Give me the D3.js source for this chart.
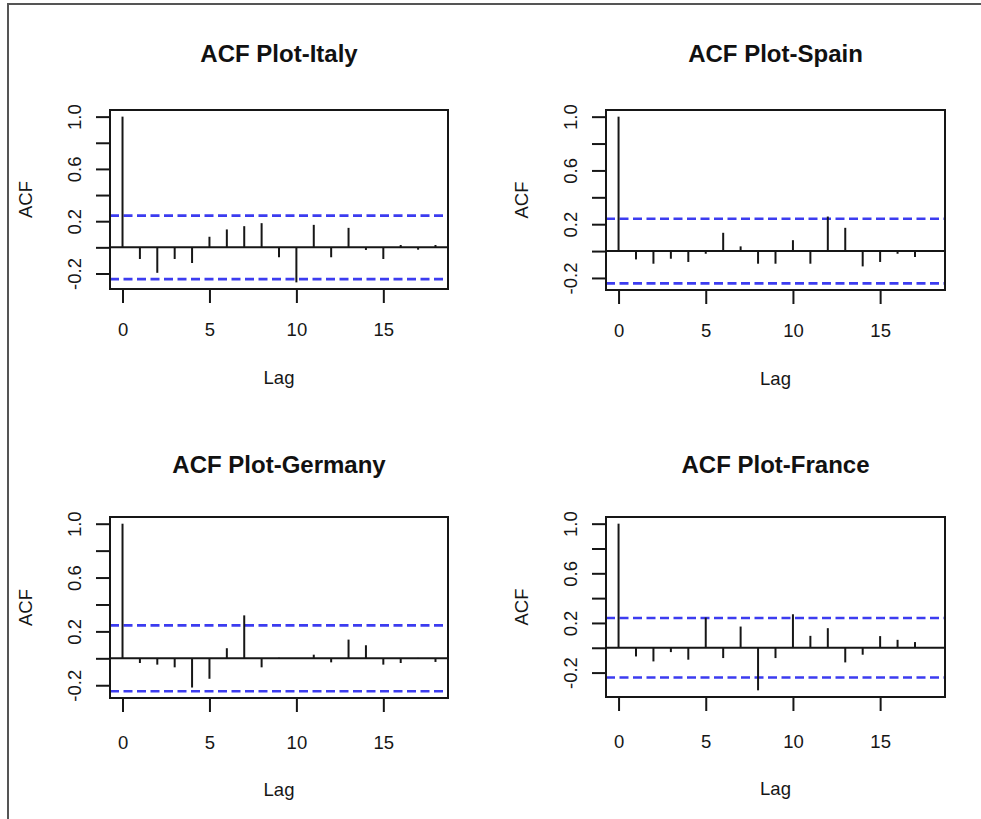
<!DOCTYPE html>
<html lang="en">
<head>
  <meta charset="UTF-8">
  <title>ACF Plots</title>
  <script src="https://d3js.org/d3.v7.min.js"></script>
  <style>
    body {
      margin: 0;
      background: #fff;
      font-family: "Liberation Sans", Arial, sans-serif;
    }
    svg { display: block; }
  </style>
</head>
<body>
  <div id="chart"></div>

  <script>
    // data
    const lags = [0, 1, 2, 3, 4, 5, 6, 7, 8, 9, 10, 11, 12, 13, 14, 15, 16, 17, 18];
    const acfItaly   = [1.0, -0.089, -0.195, -0.089, -0.12, 0.081, 0.137, 0.162, 0.185, -0.076, -0.268, 0.172, -0.076, 0.149, -0.02, -0.089, 0.018, -0.018, 0.018];
    const acfSpain   = [1.0, -0.062, -0.094, -0.057, -0.081, -0.02, 0.136, 0.035, -0.094, -0.094, 0.081, -0.094, 0.257, 0.173, -0.114, -0.081, -0.02, -0.044, 0.003];
    const acfGermany = [1.0, -0.035, -0.047, -0.067, -0.217, -0.152, 0.075, 0.319, -0.067, 0.004, -0.004, 0.027, -0.03, 0.139, 0.097, -0.047, -0.035, 0.003, -0.027];
    const acfFrance  = [1.0, -0.07, -0.11, -0.035, -0.096, 0.244, -0.083, 0.171, -0.343, -0.083, 0.27, 0.096, 0.158, -0.118, -0.056, 0.094, 0.064, 0.046, 0.003];
    const countries  = ["Italy", "Spain", "Germany", "France"];
    const confLimits = [0.243, 0.24, 0.245, 0.24];
    const xTicks = [0, 5, 10, 15];
    const yTicks = [-0.2, 0, 0.2, 0.4, 0.6, 0.8, 1.0];
    const yLabelled = [-0.2, 0.2, 0.6, 1.0];

    const W = 981, H = 819;
    const svg = d3.select("#chart").append("svg")
      .attr("width", W).attr("height", H);

    svg.append("rect").attr("width", W).attr("height", H).attr("fill", "#fff");

    // outer frame (top + left only visible)
    svg.append("path")
      .attr("d", `M8,${H} L8,4 L${W},4`)
      .attr("fill", "none").attr("stroke", "#555").attr("stroke-width", 2);

    // plot boxes for the 2x2 layout; the bottom row sits a little lower on its labels
    const boxes = [
      {left: 110, right: 448, top: 110, bottom: 289, tOff: 48, lOff: 47, labOff: 95},
      {left: 606, right: 945, top: 110, bottom: 290, tOff: 48, lOff: 47, labOff: 95},
      {left: 110, right: 448, top: 517, bottom: 698, tOff: 44, lOff: 51, labOff: 98},
      {left: 606, right: 945, top: 517, bottom: 697, tOff: 44, lOff: 51, labOff: 98}
    ];
    const series = [acfItaly, acfSpain, acfGermany, acfFrance];
    const ink = "#161616";
    const font = "'Liberation Sans', Arial, sans-serif";

    countries.forEach((name, i) => {
      const b = boxes[i];
      const vals = series[i];
      const clim = confLimits[i];
      const data = lags.map((l, j) => ({lag: l, acf: vals[j]}));

      // R-like limits: data range padded by 4%
      const lo = Math.min(-clim, d3.min(vals)), hi = Math.max(clim, d3.max(vals));
      const ypad = (hi - lo) * 0.04;
      const xlo = d3.min(lags), xhi = d3.max(lags);
      const xpad = (xhi - xlo) * 0.04;

      const x = d3.scaleLinear().domain([xlo - xpad, xhi + xpad]).range([b.left, b.right]);
      const y = d3.scaleLinear().domain([lo - ypad, hi + ypad]).range([b.bottom, b.top]);

      const g = svg.append("g");

      // x axis
      const xa = g.append("g")
        .attr("transform", `translate(0,${b.bottom})`)
        .call(d3.axisBottom(x).tickValues(xTicks).tickSize(14).tickPadding(0).tickFormat(d3.format("d")));
      xa.select(".domain").remove();
      xa.selectAll("line").attr("stroke", ink).attr("stroke-width", 2);
      xa.selectAll("text")
        .attr("y", b.lOff).attr("dy", 0)
        .attr("fill", ink)
        .style("font-size", "18.5px")
        .style("font-family", font);

      // y axis with rotated labels
      const ya = g.append("g")
        .attr("transform", `translate(${b.left},0)`)
        .call(d3.axisLeft(y).tickValues(yTicks).tickSize(14)
          .tickFormat(d => yLabelled.some(v => Math.abs(v - d) < 1e-9) ? d.toFixed(1) : ""));
      ya.select(".domain").remove();
      ya.selectAll("line").attr("stroke", ink).attr("stroke-width", 2);
      ya.selectAll("text")
        .attr("transform", "rotate(-90)")
        .attr("x", 0).attr("y", -29).attr("dy", 0)
        .attr("text-anchor", "middle")
        .attr("fill", ink)
        .style("font-size", "18.5px")
        .style("font-family", font);

      // confidence bands
      [clim, -clim].forEach(c => {
        g.append("line")
          .attr("x1", b.left).attr("x2", b.right)
          .attr("y1", y(c)).attr("y2", y(c))
          .attr("stroke", "#3c3cf0").attr("stroke-width", 2.6)
          .attr("stroke-dasharray", "9,4.5");
      });

      // zero line
      g.append("line")
        .attr("x1", b.left).attr("x2", b.right)
        .attr("y1", y(0)).attr("y2", y(0))
        .attr("stroke", ink).attr("stroke-width", 2);

      // spikes
      g.selectAll(".spike").data(data).enter().append("line")
        .attr("class", "spike")
        .attr("x1", d => x(d.lag)).attr("x2", d => x(d.lag))
        .attr("y1", y(0)).attr("y2", d => y(d.acf))
        .attr("stroke", ink).attr("stroke-width", 2);

      // box
      g.append("rect")
        .attr("x", b.left).attr("y", b.top)
        .attr("width", b.right - b.left).attr("height", b.bottom - b.top)
        .attr("fill", "none").attr("stroke", ink).attr("stroke-width", 2);

      // titles and axis labels
      const cx = (b.left + b.right) / 2;
      g.append("text")
        .attr("x", cx).attr("y", b.top - b.tOff)
        .attr("text-anchor", "middle")
        .style("font-size", "24px").style("font-weight", "bold")
        .attr("fill", "#111")
        .text(`ACF Plot-${name}`);

      g.append("text")
        .attr("x", cx).attr("y", b.bottom + b.labOff)
        .attr("text-anchor", "middle")
        .style("font-size", "18.5px")
        .attr("fill", ink)
        .text("Lag");

      g.append("text")
        .attr("transform", `translate(${b.left - 78},${(b.top + b.bottom) / 2}) rotate(-90)`)
        .attr("text-anchor", "middle")
        .style("font-size", "18.5px")
        .attr("fill", ink)
        .text("ACF");
    });
  </script>
</body>
</html>
